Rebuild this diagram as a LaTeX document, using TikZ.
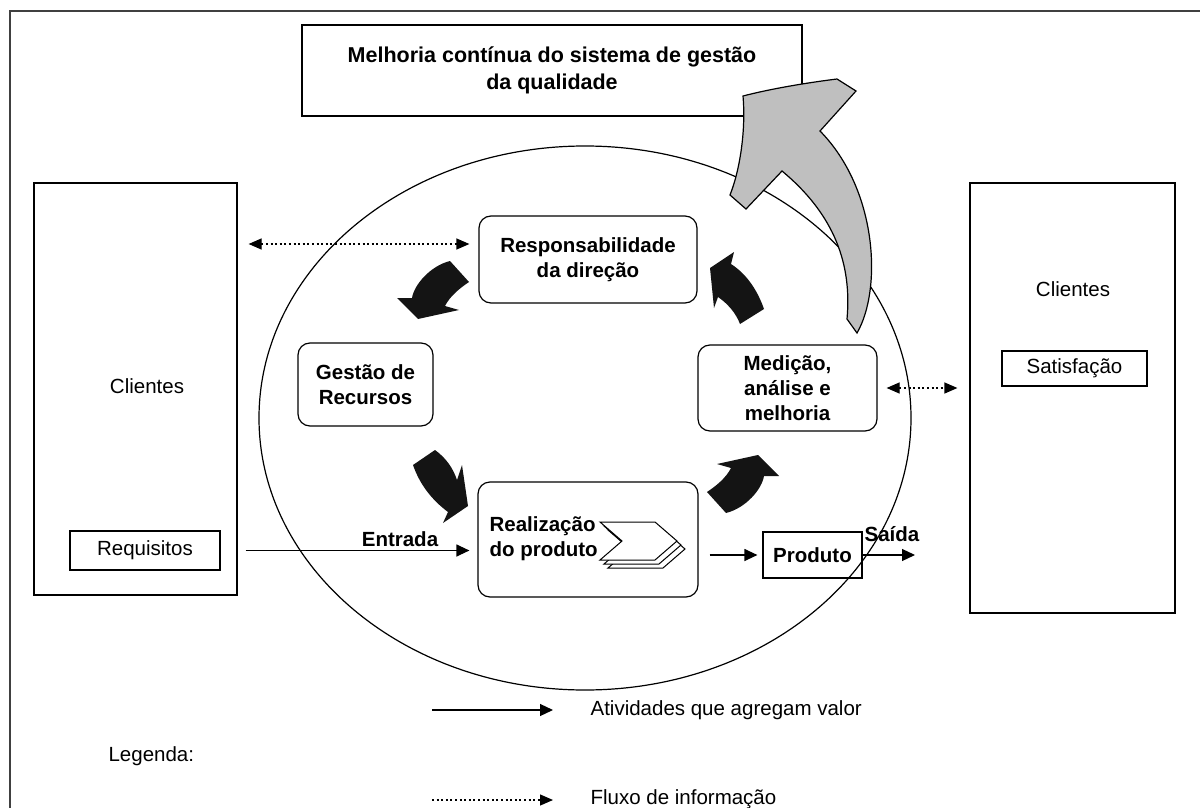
\documentclass[tikz,border=0pt]{standalone}
\usepackage{fontspec}
\setmainfont{Liberation Sans}
\usetikzlibrary{arrows.meta}
\begin{document}
\begin{tikzpicture}[x=1pt,y=-1pt,
  line width=1.2pt,
  tx/.style={font=\fontsize{20.5}{25}\selectfont, inner sep=0pt, align=center},
  bx/.style={font=\fontsize{20.5}{25}\selectfont\bfseries, inner sep=0pt, align=center},
  tbx/.style={font=\fontsize{21.5}{27}\selectfont\bfseries, inner sep=0pt, align=center},
  rbox/.style={draw, rounded corners=12pt, inner sep=0pt},
  sbox/.style={draw, inner sep=0pt},
  arr/.style={-{Triangle[length=13pt,width=12pt]}},
  dotarr/.style={{Triangle[length=13pt,width=11pt]}-{Triangle[length=13pt,width=11pt]}, dash pattern=on 2pt off 2.6pt},
  dotone/.style={-{Triangle[length=13pt,width=11pt]}, dash pattern=on 2pt off 2.6pt},
  blk/.style={fill=black!92},
  gry/.style={fill=black!25, draw=black, line width=1.2pt},
  chev/.style={draw, fill=white, line width=1pt}]
\useasboundingbox (0,0) rectangle (1200,808);
\fill[white] (0,0) rectangle (1200,808);
% frame
\draw[line width=2.2pt, black!75] (10,808) -- (10,11) -- (1200,11);
% top box
\node[sbox, tbx, minimum width=500pt, minimum height=91pt] (mel) at (552,70.5) {Melhoria contínua do sistema de gestão\\da qualidade};
% ellipse
\draw (585,418) ellipse [x radius=326pt, y radius=272pt];
% client boxes
\node[sbox, minimum width=203pt, minimum height=412pt] (clL) at (135.5,389) {};
\node[tx] (clLt) at (147,386) {Clientes};
\node[sbox, tx, minimum width=150pt, minimum height=39pt] (req) at (145,550.5) {Requisitos};
\node[sbox, minimum width=205pt, minimum height=430pt] (clR) at (1072.5,398) {};
\node[tx] (clRt) at (1073,289) {Clientes};
\node[sbox, tx, minimum width=145pt, minimum height=35pt] (sat) at (1074.5,368.5) {Satisfação};
% process boxes
\node[rbox, bx, minimum width=218pt, minimum height=87pt] (resp) at (588,259.5) {Responsabilidade\\da direção};
\node[rbox, bx, minimum width=135pt, minimum height=83pt] (ges) at (365.5,384.5) {Gestão de\\Recursos};
\node[rbox, bx, minimum width=179pt, minimum height=86pt] (med) at (787.5,388) {Medição,\\análise e\\melhoria};
\node[rbox, minimum width=220pt, minimum height=115pt] (real) at (588,539.5) {};
\node[sbox, bx, minimum width=99pt, minimum height=46pt] (prod) at (812.5,555) {Produto};
% chevrons
\foreach \k in {2,1,0}{
  \draw[chev] (600+4*\k,522+4*\k) -- ++(55,0) -- ++(22,19) -- ++(-22,19) -- ++(-55,0) -- ++(22,-19) -- cycle;
}
\node[bx, anchor=west, align=left] (realt) at (489,538.5) {Realização\\do produto};
% black curved arrows
\fill[blk] (450,261) -- (469,282) .. controls (460,288) and (450,296) .. (445,306) -- (459,310) -- (418,319) -- (397,298) -- (412,298) .. controls (414,285) and (430,266) .. (450,261) -- cycle;
\begin{scope}[rotate around={180:(588,387)}]
\fill[blk] (450,261) -- (469,282) .. controls (460,288) and (450,296) .. (445,306) -- (459,310) -- (418,319) -- (397,298) -- (412,298) .. controls (414,285) and (430,266) .. (450,261) -- cycle;
\end{scope}
\fill[blk] (734,252) -- (710,268) -- (714,308) -- (718,297) .. controls (727,303) and (736,313) .. (740,324) -- (764,309) .. controls (758,292) and (748,275) .. (731,264) -- cycle;
\fill[blk] (435,450) .. controls (446,458) and (453,468) .. (457,480) -- (462,465) -- (468,506) -- (443,523) -- (448,512) .. controls (432,500) and (420,485) .. (413,465) -- cycle;
% gray improvement arrow
\draw[gry, line join=miter] (847,319) -- (857,333) .. controls (882,290) and (878,190) .. (820,131) -- (856,91) -- (837,79) .. controls (805,83) and (770,89) .. (743,96) .. controls (746,130) and (740,170) .. (730,195) -- (746,209) -- (782,171) .. controls (835,215) and (852,265) .. (847,319) -- cycle;
% flow arrows
\draw[arr, shorten <=8pt, shorten >=8pt] (clL.east |- req.east) -- (real.west |- req.east);
\node[bx] (lent) at (400,539) {Entrada};
\draw[arr, shorten <=11pt, shorten >=5pt] (real.east |- prod.west) -- (prod.west);
\coordinate (saida) at (915,555);
\draw[arr] (prod.east) -- (saida);
\node[bx] (lsai) at (892,534) {Saída};
% information flows
\coordinate (dy) at (0,244);
\draw[dotarr, shorten <=11pt, shorten >=9pt] (clL.east |- dy) -- (resp.west |- dy);
\draw[dotarr, shorten <=9pt, shorten >=12pt] (med.east) -- (clR.west |- med.east);
% legend
\coordinate (la1) at (432,710);
\coordinate (la2) at (553,710);
\draw[arr] (la1) -- (la2);
\node[tx, anchor=west] (lt1) at (590,710) {Atividades que agregam valor};
\node[tx, anchor=west] (lleg) at (108,756) {Legenda:};
\coordinate (lb1) at (432,800);
\coordinate (lb2) at (553,800);
\draw[dotone] (lb1) -- (lb2);
\node[tx, anchor=west] (lt2) at (590,799) {Fluxo de informação};
\end{tikzpicture}
\end{document}
